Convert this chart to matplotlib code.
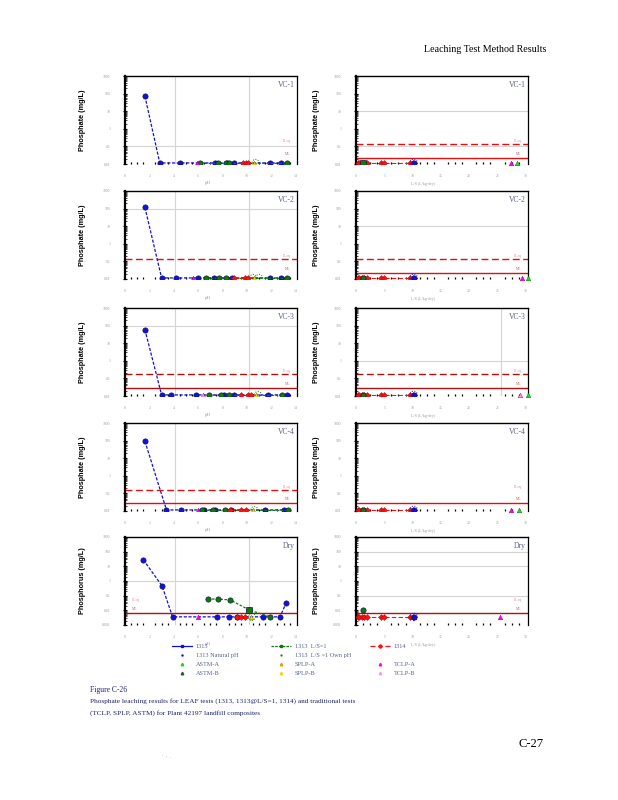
import numpy as np
import matplotlib.pyplot as plt
from matplotlib.lines import Line2D
from matplotlib.ticker import LogLocator, MultipleLocator, NullFormatter, FixedLocator

plt.rcParams['font.family'] = ['Liberation Serif', 'DejaVu Serif']

samples = ["VC-1", "VC-2", "VC-3", "VC-4", "Dry"]
ylabels = {"VC-1": "Phosphate (mg/L)", "VC-2": "Phosphate (mg/L)", "VC-3": "Phosphate (mg/L)",
           "VC-4": "Phosphate (mg/L)", "Dry": "Phosphorus (mg/L)"}

# non-detects are drawn at the bottom of each panel
ND = 0.0115
NDD = 0.0036

# 1313 (blue)
ph_1313 = {
    "VC-1": [1.63, 2.85, 4.48, 7.34, 8.34, 8.97, 11.9, 12.8],
    "VC-2": [1.63, 3.0, 4.15, 6.0, 7.3, 8.8, 11.9, 12.8],
    "VC-3": [1.63, 3.0, 3.75, 5.84, 8.1, 8.9, 11.7, 13.3],
    "VC-4": [1.63, 3.4, 4.6, 6.5, 7.4, 8.7, 11.5, 13.0],
    "Dry": [1.5, 3.04, 3.9, 7.55, 8.5, 9.2, 11.3, 12.7, 13.2],
}
c_1313 = {
    "VC-1": [73, ND, ND, ND, ND, ND, ND, ND],
    "VC-2": [119, ND, ND, ND, ND, ND, ND, ND],
    "VC-3": [60, ND, ND, ND, ND, ND, ND, ND],
    "VC-4": [93, ND, ND, ND, ND, ND, ND, ND],
    "Dry": [28, 0.46, NDD, NDD, NDD, NDD, NDD, NDD, 0.03],
}
# 1313 L/S=1 (green)
ph_ls1 = {
    "VC-1": [6.17, 7.66, 8.3, 8.56, 13.3],
    "VC-2": [6.6, 7.7, 8.3, 13.3],
    "VC-3": [6.9, 7.9, 8.56, 12.85],
    "VC-4": [6.3, 7.2, 8.2, 13.4],
    "Dry": [6.8, 7.6, 8.6, 10.2, 11.9],
}
c_ls1 = {
    "VC-1": [ND, ND, ND, ND, ND],
    "VC-2": [ND, ND, ND, ND],
    "VC-3": [ND, ND, ND, ND],
    "VC-4": [ND, ND, ND, ND],
    "Dry": [0.06, 0.058, 0.052, 0.0105, NDD],
}
# 1314 at final pH (red)
ph_1314 = {"VC-1": [9.7, 9.9, 10.1], "VC-2": [8.9, 9.8, 10.05], "VC-3": [9.5, 10.05, 10.3],
           "VC-4": [8.6, 9.5, 9.9], "Dry": [9.2, 9.5, 9.8]}
# natural pH (dotted circle), SPLP, TCLP
ph_nat = {"VC-1": [10.7], "VC-2": [10.5, 11.0], "VC-3": [10.9], "VC-4": [10.6], "Dry": [10.4]}
ph_splp = {"VC-1": 10.6, "VC-2": 10.6, "VC-3": 10.7, "VC-4": 10.5, "Dry": 10.3}
ph_tclp = {"VC-1": 5.9, "VC-2": 5.6, "VC-3": 6.4, "VC-4": 6.0, "Dry": 6.0}

# L/S panels
ls_1314 = [0.3, 0.6, 1.0, 1.5, 2.0, 4.5, 5.0, 9.5, 10.0]
ls_ls1 = 1.2
ls_1313 = 10.2
c_ls1_right = {"VC-1": ND, "VC-2": ND, "VC-3": ND, "VC-4": ND, "Dry": 0.0105}
ls_tclp = {"VC-1": 27.4, "VC-2": 29.4, "VC-3": 28.9, "VC-4": 27.4, "Dry": 25.5}
ls_astm = {"VC-1": 28.4, "VC-2": 30.4, "VC-3": 30.4, "VC-4": 28.8, "Dry": None}

# LLOQ / ML levels
lloq = {"VC-1": 0.14, "VC-2": 0.14, "VC-3": 0.17, "VC-4": 0.16, "Dry": 0.035}
ml = {"VC-1": 0.022, "VC-2": 0.022, "VC-3": 0.027, "VC-4": 0.03, "Dry": 0.007}
lloq_left_on = {"VC-1": False, "VC-2": True, "VC-3": True, "VC-4": True, "Dry": False}
ml_left_on = {"VC-1": False, "VC-2": False, "VC-3": True, "VC-4": True, "Dry": True}
lloq_right_on = {"VC-1": True, "VC-2": True, "VC-3": True, "VC-4": False, "Dry": False}
ml_right_on = {"VC-1": True, "VC-2": True, "VC-3": True, "VC-4": True, "Dry": True}

# grid lines that show on each panel
hgrid_left = {"VC-1": [0.1], "VC-2": [100], "VC-3": [100], "VC-4": [], "Dry": [1]}
vgrid_left = {"VC-1": [4.1, 10.2], "VC-2": [4.1, 10.2], "VC-3": [4.1, 10.2], "VC-4": [4.1], "Dry": [4.1, 10.2]}
hgrid_right = {"VC-1": [10, 0.1], "VC-2": [10], "VC-3": [1], "VC-4": [], "Dry": [100, 10, 0.1]}
vgrid_right = {"VC-1": [], "VC-2": [], "VC-3": [25.6], "VC-4": [], "Dry": []}

BLUE = "#1010e0"
GREEN = "#0a7a0a"
RED = "#ff1010"
MAG = "#ff00ff"
PINK = "#ff99dd"
YEL = "#ffd000"
TICKC = "#9a9a9a"
TITLEC = "#5a6482"

fig = plt.figure(figsize=(6.18, 8.0), dpi=100)

tops = [76, 191, 308, 423, 537]
H = 88


def style_axes(ax, dry, right):
    ax.set_yscale("log")
    if dry:
        ax.set_ylim(0.001, 1000)
        ax.yaxis.set_major_locator(FixedLocator([0.001, 0.01, 0.1, 1, 10, 100, 1000]))
    else:
        ax.set_ylim(0.01, 1000)
        ax.yaxis.set_major_locator(FixedLocator([0.01, 0.1, 1, 10, 100, 1000]))
    ax.yaxis.set_major_formatter(plt.FuncFormatter(lambda v, p: f"{v:g}"))
    ax.yaxis.set_minor_locator(LogLocator(base=10, subs=np.arange(2, 10)))
    ax.yaxis.set_minor_formatter(NullFormatter())
    if right:
        ax.set_xlim(0, 30.4)
        ax.xaxis.set_major_locator(MultipleLocator(5))
        ax.xaxis.set_minor_locator(MultipleLocator(1.25))
        ax.set_xlabel("L/S (L/kg-dry)", fontsize=3, color=TICKC)
        ax.xaxis.set_label_coords(0.39, -0.2)
    else:
        ax.set_xlim(0, 14.1)
        ax.xaxis.set_major_locator(MultipleLocator(2))
        ax.xaxis.set_minor_locator(MultipleLocator(0.5))
        ax.set_xlabel("pH", fontsize=3.5, color=TICKC)
        ax.xaxis.set_label_coords(0.48, -0.19)
    ax.tick_params(axis="x", which="major", length=0, labelsize=2.7, labelcolor=TICKC, pad=7)
    ax.tick_params(axis="x", which="minor", direction="in", length=1.2, width=0.9, color="black")
    ax.tick_params(axis="y", which="major", direction="inout", length=3, width=0.8,
                   labelsize=2.7, labelcolor=TICKC, pad=9)
    ax.tick_params(axis="y", which="minor", direction="in", length=1.2, width=0.5)
    ax.spines["bottom"].set_visible(False)
    ax.spines["left"].set_linewidth(1.6)
    ax.spines["top"].set_linewidth(1.0)
    ax.spines["right"].set_linewidth(0.9)


def ref_lines(ax, s, draw_lloq, draw_ml, text_left=False):
    col = "#b01010" if s in ("VC-3", "Dry") else "#e01010"
    if draw_lloq:
        ax.axhline(lloq[s], color=col, lw=1.0, ls=(0, (5, 2.5)), zorder=2)
    if draw_ml:
        ax.axhline(ml[s], color=col, lw=1.0, zorder=2)
    tx, ha = (0.04, "left") if text_left else (0.965, "right")
    ax.text(tx, lloq[s] * 1.5, "LLoq", transform=ax.get_yaxis_transform(), ha=ha, va="center",
            fontsize=2.8, color="#e88a9a")
    ax.text(tx, ml[s] * 1.7, "ML", transform=ax.get_yaxis_transform(), ha=ha, va="center",
            fontsize=2.8, color="#c07070")


mk = dict(markersize=3.8, markeredgecolor="#101040", markeredgewidth=0.45)

for i, s in enumerate(samples):
    dry = s == "Dry"
    nd = NDD if dry else ND
    bottom = 1 - (tops[i] + H) / 800
    # pH panel
    ax = fig.add_axes([125 / 618, bottom, 172 / 618, H / 800])
    style_axes(ax, dry, False)
    for v in hgrid_left[s]:
        ax.axhline(v, color="#d4d4d4", lw=0.8, zorder=1)
    for v in vgrid_left[s]:
        ax.axvline(v, color="#d4d4d4", lw=0.8, zorder=1)
    ref_lines(ax, s, lloq_left_on[s], ml_left_on[s], text_left=dry)
    ax.plot(ph_1313[s], c_1313[s], color=BLUE, lw=0.9, ls=(0, (2.5, 1.3)), marker="o",
            markerfacecolor=BLUE, zorder=4, **mk)
    ax.plot(ph_ls1[s], c_ls1[s], color=GREEN, lw=0.9, ls=(0, (2, 1.3)), marker="o",
            markerfacecolor=GREEN, zorder=4, **mk)
    if dry:
        ax.plot([ph_ls1[s][3]], [c_ls1[s][3]], ls="none", marker="s", markerfacecolor=GREEN,
                zorder=5, **mk)
    ax.plot(ph_1314[s], [nd] * len(ph_1314[s]), color=RED, lw=0.8, ls=(0, (4, 2)), marker="D",
            markersize=3.0, markerfacecolor=RED, markeredgecolor="#a00000", markeredgewidth=0.3,
            zorder=5)
    ax.scatter(ph_nat[s], [nd] * len(ph_nat[s]), s=26, facecolors="none", edgecolors=GREEN,
               linewidths=0.7, linestyles=":", zorder=6)
    ax.plot([ph_splp[s]], [nd], ls="none", marker="^", markersize=3.3, markerfacecolor=YEL,
            markeredgecolor="#806000", markeredgewidth=0.3, zorder=6)
    tc = PINK if s == "VC-3" else MAG
    ax.plot([ph_tclp[s]], [nd], ls="none", marker="^", markersize=3.3, markerfacecolor=tc,
            markeredgecolor="#800080", markeredgewidth=0.3, zorder=6)
    ax.text(0.985, 0.94, s, transform=ax.transAxes, ha="right", va="top", fontsize=5.5, color=TITLEC)
    ax.set_ylabel(ylabels[s], fontsize=5.2, fontweight="bold", family="Liberation Sans")
    ax.yaxis.set_label_coords(-0.227, 0.5)

    # L/S panel
    ax = fig.add_axes([356 / 618, bottom, 172 / 618, H / 800])
    style_axes(ax, dry, True)
    for v in hgrid_right[s]:
        ax.axhline(v, color="#d4d4d4", lw=0.8, zorder=1)
    for v in vgrid_right[s]:
        ax.axvline(v, color="#d4d4d4", lw=0.8, zorder=1)
    ref_lines(ax, s, lloq_right_on[s], ml_right_on[s])
    ax.plot(ls_1314, [nd] * len(ls_1314), color=RED, lw=0.8, ls=(0, (4, 2)), marker="D",
            markersize=3.0, markerfacecolor=RED, markeredgecolor="#a00000", markeredgewidth=0.3,
            zorder=5)
    ax.plot([ls_ls1], [c_ls1_right[s]], ls="none", marker="s" if s == "VC-1" else "o",
            markerfacecolor=GREEN, zorder=6, **mk)
    ax.plot([ls_1313], [nd], ls="none", marker="o", markerfacecolor=BLUE, zorder=6, **mk)
    ax.scatter([ls_1313], [nd], s=30, facecolors="none", edgecolors=BLUE, linewidths=0.7,
               linestyles=":", zorder=6)
    tc = PINK if s == "VC-3" else MAG
    ax.plot([ls_tclp[s]], [nd], ls="none", marker="^", markersize=3.3, markerfacecolor=tc,
            markeredgecolor="#800080", markeredgewidth=0.3, zorder=6, clip_on=False)
    if ls_astm[s] is not None:
        ax.plot([ls_astm[s]], [nd], ls="none", marker="^", markersize=3.3, markerfacecolor="#22dd22",
                markeredgecolor="#006000", markeredgewidth=0.3, zorder=6, clip_on=False)
    ax.text(0.985, 0.94, s, transform=ax.transAxes, ha="right", va="top", fontsize=5.5, color=TITLEC)
    ax.set_ylabel(ylabels[s], fontsize=5.2, fontweight="bold", family="Liberation Sans")
    ax.yaxis.set_label_coords(-0.209, 0.5)


# legend, three columns
def h(**kw):
    return Line2D([], [], **kw)


cols = [
    ([h(color=BLUE, lw=0.9, marker="s", markersize=2, markerfacecolor=BLUE),
      h(ls="none", marker=".", markersize=1.5, color=BLUE),
      h(ls="none", marker="^", markersize=1.8, color="#22cc22"),
      h(ls="none", marker="^", markersize=1.8, color="#305030")],
     ["1313", "1313 Natural pH", "ASTM-A", "ASTM-B"], 172),
    ([h(color=GREEN, lw=0.9, ls=(0, (2, 1)), marker="s", markersize=2, markerfacecolor=GREEN),
      h(ls="none", marker=".", markersize=1.2, color=GREEN),
      h(ls="none", marker="^", markersize=1.8, color="#e0a000"),
      h(ls="none", marker="^", markersize=1.8, color=YEL)],
     ["1313  L/S=1", "1313  L/S =1 Own pH", "SPLP-A", "SPLP-B"], 271),
    ([h(color=RED, lw=0.9, ls=(0, (4, 2)), marker="D", markersize=1.8),
      h(ls="none", color="none"),
      h(ls="none", marker="^", markersize=1.8, color=MAG),
      h(ls="none", marker="^", markersize=1.8, color=PINK)],
     ["1314", "", "TCLP-A", "TCLP-B"], 370),
]
for handles, labels, xpx in cols:
    leg = fig.legend(handles, labels, loc="upper left", bbox_to_anchor=(xpx / 618, 1 - 644 / 800),
                     frameon=False, fontsize=4.5, handlelength=3.2, handletextpad=0.6,
                     labelspacing=0.55, borderpad=0, borderaxespad=0)
    for t in leg.get_texts():
        t.set_color("#55608a")

NAVY = "#1c2270"
fig.text(90 / 618, 1 - 690 / 800, "Figure C-26", fontsize=5.5, color=NAVY, va="center")
fig.text(90 / 618, 1 - 701 / 800,
         "Phosphate leaching results for LEAF tests (1313, 1313@L/S=1, 1314) and traditional tests",
         fontsize=5.2, color=NAVY, va="center")
fig.text(90 / 618, 1 - 713 / 800, "(TCLP, SPLP, ASTM) for Plant 42197 landfill composites",
         fontsize=5.2, color=NAVY, va="center")

fig.text(546 / 618, 1 - 50 / 800, "Leaching Test Method Results", fontsize=7.2, ha="right", va="center")
fig.text(544 / 618, 1 - 744 / 800, "C-27", fontsize=9, ha="right", va="center")
fig.text(166 / 618, 1 - 757 / 800, "'   :   .", fontsize=3, ha="center", va="center", color="#777777")

fig.savefig("out.png", dpi=100)
